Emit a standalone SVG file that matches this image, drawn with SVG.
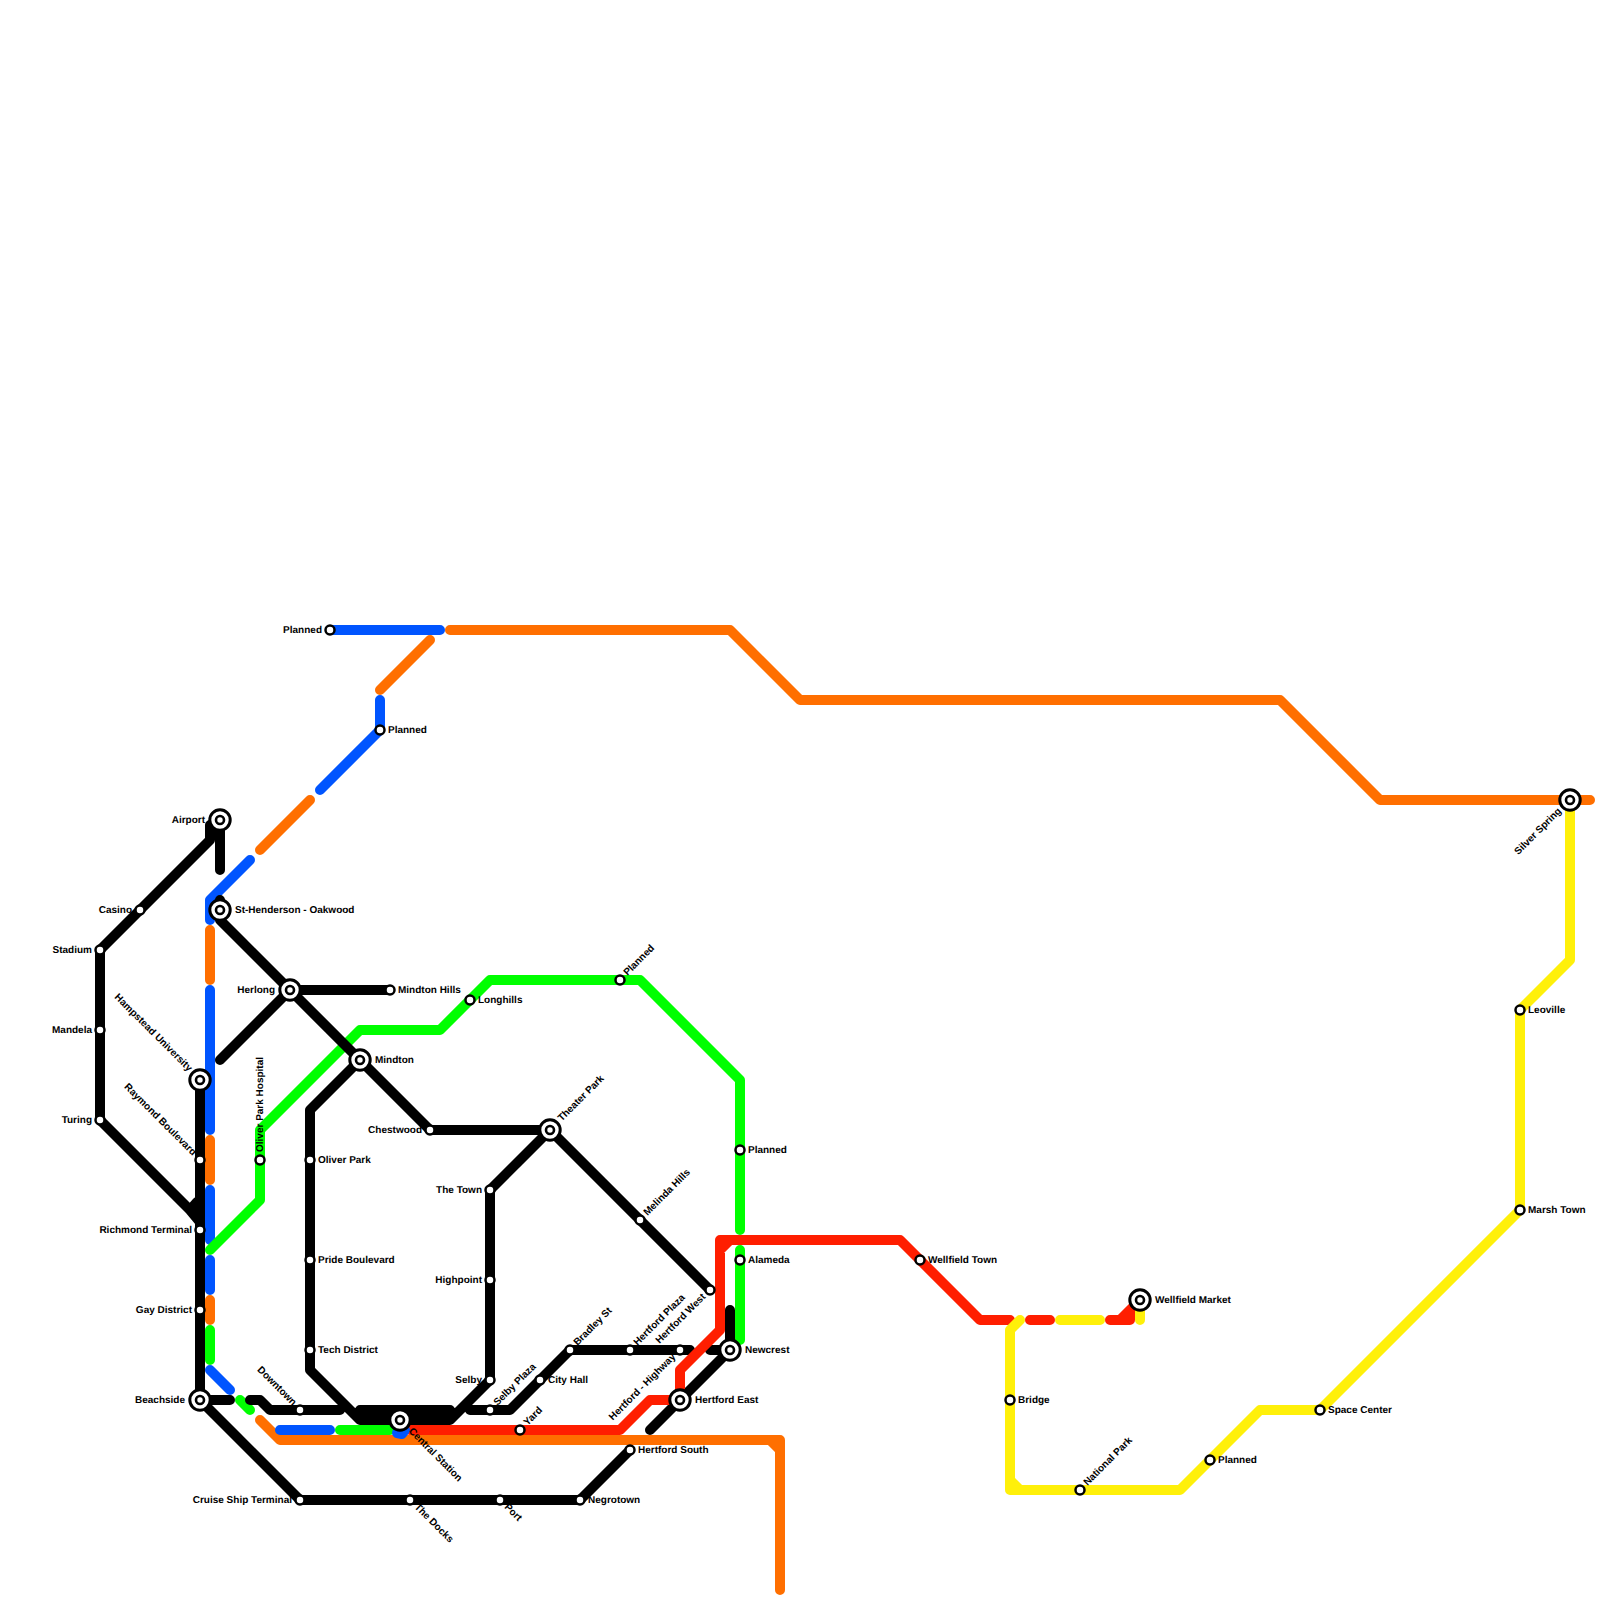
<svg xmlns="http://www.w3.org/2000/svg" width="1600" height="1600" viewBox="0 0 1600 1600">
<style>
.l{fill:none;stroke-width:10;stroke-linecap:round;stroke-linejoin:round}
.k{stroke:#000}.o{stroke:#ff6f00}.b{stroke:#0055ff}.g{stroke:#00ff00}.r{stroke:#ff1e00}.y{stroke:#fff00a}
.s{fill:#fff;stroke:#000;stroke-width:2.5}
.i1{fill:#fff;stroke:#000;stroke-width:3}
.i2{fill:#fff;stroke:#000;stroke-width:2.6}
text{font-family:"Liberation Sans",Arial,sans-serif;font-size:10px;font-weight:700;fill:#000;text-rendering:geometricPrecision}
.e{text-anchor:end}
</style>
<g id="connectors">
<path class="l o" d="M450 630H730L800 700H1280L1380 800H1590M430 640L380 690M310 800L260 850M210 930V980M210 1140V1180M210 1300V1320M260 1420L280 1440H780V1590M770 1440L780 1450"/>
<path class="l b" d="M330 630H440M380 700V730L320 790M250 860L210 900V920M210 990V1130M210 1190V1240M210 1260V1290M210 1370L230 1390M280 1430H330"/>
<path class="l g" d="M340 1430H390M240 1400L250 1410M210 1330V1360M210 1250L260 1200V1130L360 1030H440L490 980H640L740 1080V1230M740 1250V1340"/>
<path class="l k" d="M210 825V840L100 950V1120L200 1220M220 820V870M197 1202L190 1210L200 1222M200 1080V1400H230M250 1400H260L270 1410H340M200 1400L300 1500H580L630 1450M220 900V920L430 1130H550L710 1290M290 990H390M290 990L220 1060M360 1060L310 1110V1370L360 1420H450L490 1380V1190L550 1130M360 1410H450M365 1415H445M470 1410H510L570 1350H690M710 1350H730V1310M650 1430L730 1350"/>
<path class="l r" d="M410 1430H620L650 1400H680V1370L720 1330V1240H900L980 1320H1010M720 1250L730 1240M1030 1320H1050M1110 1320H1130V1310M1120 1320L1140 1300"/>
<path class="l y" d="M1020 1320L1010 1330V1490H1180L1260 1410H1320L1520 1210V1010L1570 960V800M1010 1480L1020 1490M1060 1320H1100M1140 1300V1320"/>
<path class="l b" d="M397 1433L402 1434L405 1430"/>
</g>
<g id="n-airport"><circle class="i1" cx="220" cy="820" r="10.2"/><circle class="i2" cx="220" cy="820" r="4"/><text class="e" x="205" y="822.5">Airport</text></g>
<g id="n-casino"><circle class="s" cx="140" cy="910" r="4.5"/><text class="e" x="132" y="912.5">Casino</text></g>
<g id="n-stadium"><circle class="s" cx="100" cy="950" r="4.5"/><text class="e" x="92" y="952.5">Stadium</text></g>
<g id="n-mandela"><circle class="s" cx="100" cy="1030" r="4.5"/><text class="e" x="92" y="1032.5">Mandela</text></g>
<g id="n-turing"><circle class="s" cx="100" cy="1120" r="4.5"/><text class="e" x="92" y="1122.5">Turing</text></g>
<g id="n-sthenderson"><circle class="i1" cx="220" cy="910" r="10.2"/><circle class="i2" cx="220" cy="910" r="4"/><text x="235" y="912.5">St-Henderson - Oakwood</text></g>
<g id="n-herlong"><circle class="i1" cx="290" cy="990" r="10.2"/><circle class="i2" cx="290" cy="990" r="4"/><text class="e" x="275" y="992.5">Herlong</text></g>
<g id="n-mindtonhills"><circle class="s" cx="390" cy="990" r="4.5"/><text x="398" y="992.5">Mindton Hills</text></g>
<g id="n-longhills"><circle class="s" cx="470" cy="1000" r="4.5"/><text x="478" y="1002.5">Longhills</text></g>
<g id="n-mindton"><circle class="i1" cx="360" cy="1060" r="10.2"/><circle class="i2" cx="360" cy="1060" r="4"/><text x="375" y="1062.5">Mindton</text></g>
<g id="n-hampstead"><circle class="i1" cx="200" cy="1080" r="10.2"/><circle class="i2" cx="200" cy="1080" r="4"/><text class="e" transform="translate(200 1080) rotate(45)" x="-14" y="2.5">Hampstead University</text></g>
<g id="n-raymond"><circle class="s" cx="200" cy="1160" r="4.5"/><text class="e" transform="translate(200 1160) rotate(45)" x="-8" y="2.5">Raymond Boulevard</text></g>
<g id="n-richmond"><circle class="s" cx="200" cy="1230" r="4.5"/><text class="e" x="192" y="1232.5">Richmond Terminal</text></g>
<g id="n-gay"><circle class="s" cx="200" cy="1310" r="4.5"/><text class="e" x="192" y="1312.5">Gay District</text></g>
<g id="n-beachside"><circle class="i1" cx="200" cy="1400" r="10.2"/><circle class="i2" cx="200" cy="1400" r="4"/><text class="e" x="185" y="1402.5">Beachside</text></g>
<g id="n-oliverhospital"><circle class="s" cx="260" cy="1160" r="4.5"/><text transform="translate(260 1160) rotate(-90)" x="8" y="2.5">Oliver Park Hospital</text></g>
<g id="n-oliverpark"><circle class="s" cx="310" cy="1160" r="4.5"/><text x="318" y="1162.5">Oliver Park</text></g>
<g id="n-pride"><circle class="s" cx="310" cy="1260" r="4.5"/><text x="318" y="1262.5">Pride Boulevard</text></g>
<g id="n-tech"><circle class="s" cx="310" cy="1350" r="4.5"/><text x="318" y="1352.5">Tech District</text></g>
<g id="n-downtown"><circle class="s" cx="300" cy="1410" r="4.5"/><text class="e" transform="translate(300 1410) rotate(45)" x="-8" y="2.5">Downtown</text></g>
<g id="n-central"><circle class="i1" cx="400" cy="1420" r="10.2"/><circle class="i2" cx="400" cy="1420" r="4"/><text transform="translate(400 1420) rotate(45)" x="14" y="2.5">Central Station</text></g>
<g id="n-docks"><circle class="s" cx="410" cy="1500" r="4.5"/><text transform="translate(410 1500) rotate(45)" x="8" y="2.5">The Docks</text></g>
<g id="n-cruise"><circle class="s" cx="300" cy="1500" r="4.5"/><text class="e" x="292" y="1502.5">Cruise Ship Terminal</text></g>
<g id="n-port"><circle class="s" cx="500" cy="1500" r="4.5"/><text transform="translate(500 1500) rotate(45)" x="8" y="2.5">Port</text></g>
<g id="n-negrotown"><circle class="s" cx="580" cy="1500" r="4.5"/><text x="588" y="1502.5">Negrotown</text></g>
<g id="n-hertfordsouth"><circle class="s" cx="630" cy="1450" r="4.5"/><text x="638" y="1452.5">Hertford South</text></g>
<g id="n-yard"><circle class="s" cx="520" cy="1430" r="4.5"/><text transform="translate(520 1430) rotate(-45)" x="8" y="2.5">Yard</text></g>
<g id="n-selbyplaza"><circle class="s" cx="490" cy="1410" r="4.5"/><text transform="translate(490 1410) rotate(-45)" x="8" y="2.5">Selby Plaza</text></g>
<g id="n-selby"><circle class="s" cx="490" cy="1380" r="4.5"/><text class="e" x="482" y="1382.5">Selby</text></g>
<g id="n-highpoint"><circle class="s" cx="490" cy="1280" r="4.5"/><text class="e" x="482" y="1282.5">Highpoint</text></g>
<g id="n-thetown"><circle class="s" cx="490" cy="1190" r="4.5"/><text class="e" x="482" y="1192.5">The Town</text></g>
<g id="n-chestwood"><circle class="s" cx="430" cy="1130" r="4.5"/><text class="e" x="422" y="1132.5">Chestwood</text></g>
<g id="n-theaterpark"><circle class="i1" cx="550" cy="1130" r="10.2"/><circle class="i2" cx="550" cy="1130" r="4"/><text transform="translate(550 1130) rotate(-45)" x="14" y="2.5">Theater Park</text></g>
<g id="n-melinda"><circle class="s" cx="640" cy="1220" r="4.5"/><text transform="translate(640 1220) rotate(-45)" x="8" y="2.5">Melinda Hills</text></g>
<g id="n-cityhall"><circle class="s" cx="540" cy="1380" r="4.5"/><text x="548" y="1382.5">City Hall</text></g>
<g id="n-bradley"><circle class="s" cx="570" cy="1350" r="4.5"/><text transform="translate(570 1350) rotate(-45)" x="8" y="2.5">Bradley St</text></g>
<g id="n-hertfordplaza"><circle class="s" cx="630" cy="1350" r="4.5"/><text transform="translate(630 1350) rotate(-45)" x="8" y="2.5">Hertford Plaza</text></g>
<g id="n-highway"><circle class="s" cx="680" cy="1350" r="4.5"/><text class="e" transform="translate(680 1350) rotate(-45)" x="-8" y="2.5">Hertford - Highway</text></g>
<g id="n-hertfordwest"><circle class="s" cx="710" cy="1290" r="4.5"/><text class="e" transform="translate(710 1290) rotate(-45)" x="-8" y="2.5">Hertford West</text></g>
<g id="n-hertfordeast"><circle class="i1" cx="680" cy="1400" r="10.2"/><circle class="i2" cx="680" cy="1400" r="4"/><text x="695" y="1402.5">Hertford East</text></g>
<g id="n-newcrest"><circle class="i1" cx="730" cy="1350" r="10.2"/><circle class="i2" cx="730" cy="1350" r="4"/><text x="745" y="1352.5">Newcrest</text></g>
<g id="n-planned-a"><circle class="s" cx="330" cy="630" r="4.5"/><text class="e" x="322" y="632.5">Planned</text></g>
<g id="n-planned-b"><circle class="s" cx="380" cy="730" r="4.5"/><text x="388" y="732.5">Planned</text></g>
<g id="n-planned-c"><circle class="s" cx="620" cy="980" r="4.5"/><text transform="translate(620 980) rotate(-45)" x="8" y="2.5">Planned</text></g>
<g id="n-planned-d"><circle class="s" cx="740" cy="1150" r="4.5"/><text x="748" y="1152.5">Planned</text></g>
<g id="n-alameda"><circle class="s" cx="740" cy="1260" r="4.5"/><text x="748" y="1262.5">Alameda</text></g>
<g id="n-wellfieldtown"><circle class="s" cx="920" cy="1260" r="4.5"/><text x="928" y="1262.5">Wellfield Town</text></g>
<g id="n-wellfieldmarket"><circle class="i1" cx="1140" cy="1300" r="10.2"/><circle class="i2" cx="1140" cy="1300" r="4"/><text x="1155" y="1302.5">Wellfield Market</text></g>
<g id="n-bridge"><circle class="s" cx="1010" cy="1400" r="4.5"/><text x="1018" y="1402.5">Bridge</text></g>
<g id="n-nationalpark"><circle class="s" cx="1080" cy="1490" r="4.5"/><text transform="translate(1080 1490) rotate(-45)" x="8" y="2.5">National Park</text></g>
<g id="n-planned-e"><circle class="s" cx="1210" cy="1460" r="4.5"/><text x="1218" y="1462.5">Planned</text></g>
<g id="n-spacecenter"><circle class="s" cx="1320" cy="1410" r="4.5"/><text x="1328" y="1412.5">Space Center</text></g>
<g id="n-marshtown"><circle class="s" cx="1520" cy="1210" r="4.5"/><text x="1528" y="1212.5">Marsh Town</text></g>
<g id="n-leoville"><circle class="s" cx="1520" cy="1010" r="4.5"/><text x="1528" y="1012.5">Leoville</text></g>
<g id="n-silverspring"><circle class="i1" cx="1570" cy="800" r="10.2"/><circle class="i2" cx="1570" cy="800" r="4"/><text class="e" transform="translate(1570 800) rotate(-45)" x="-14" y="2.5">Silver Spring</text></g>
</svg>
